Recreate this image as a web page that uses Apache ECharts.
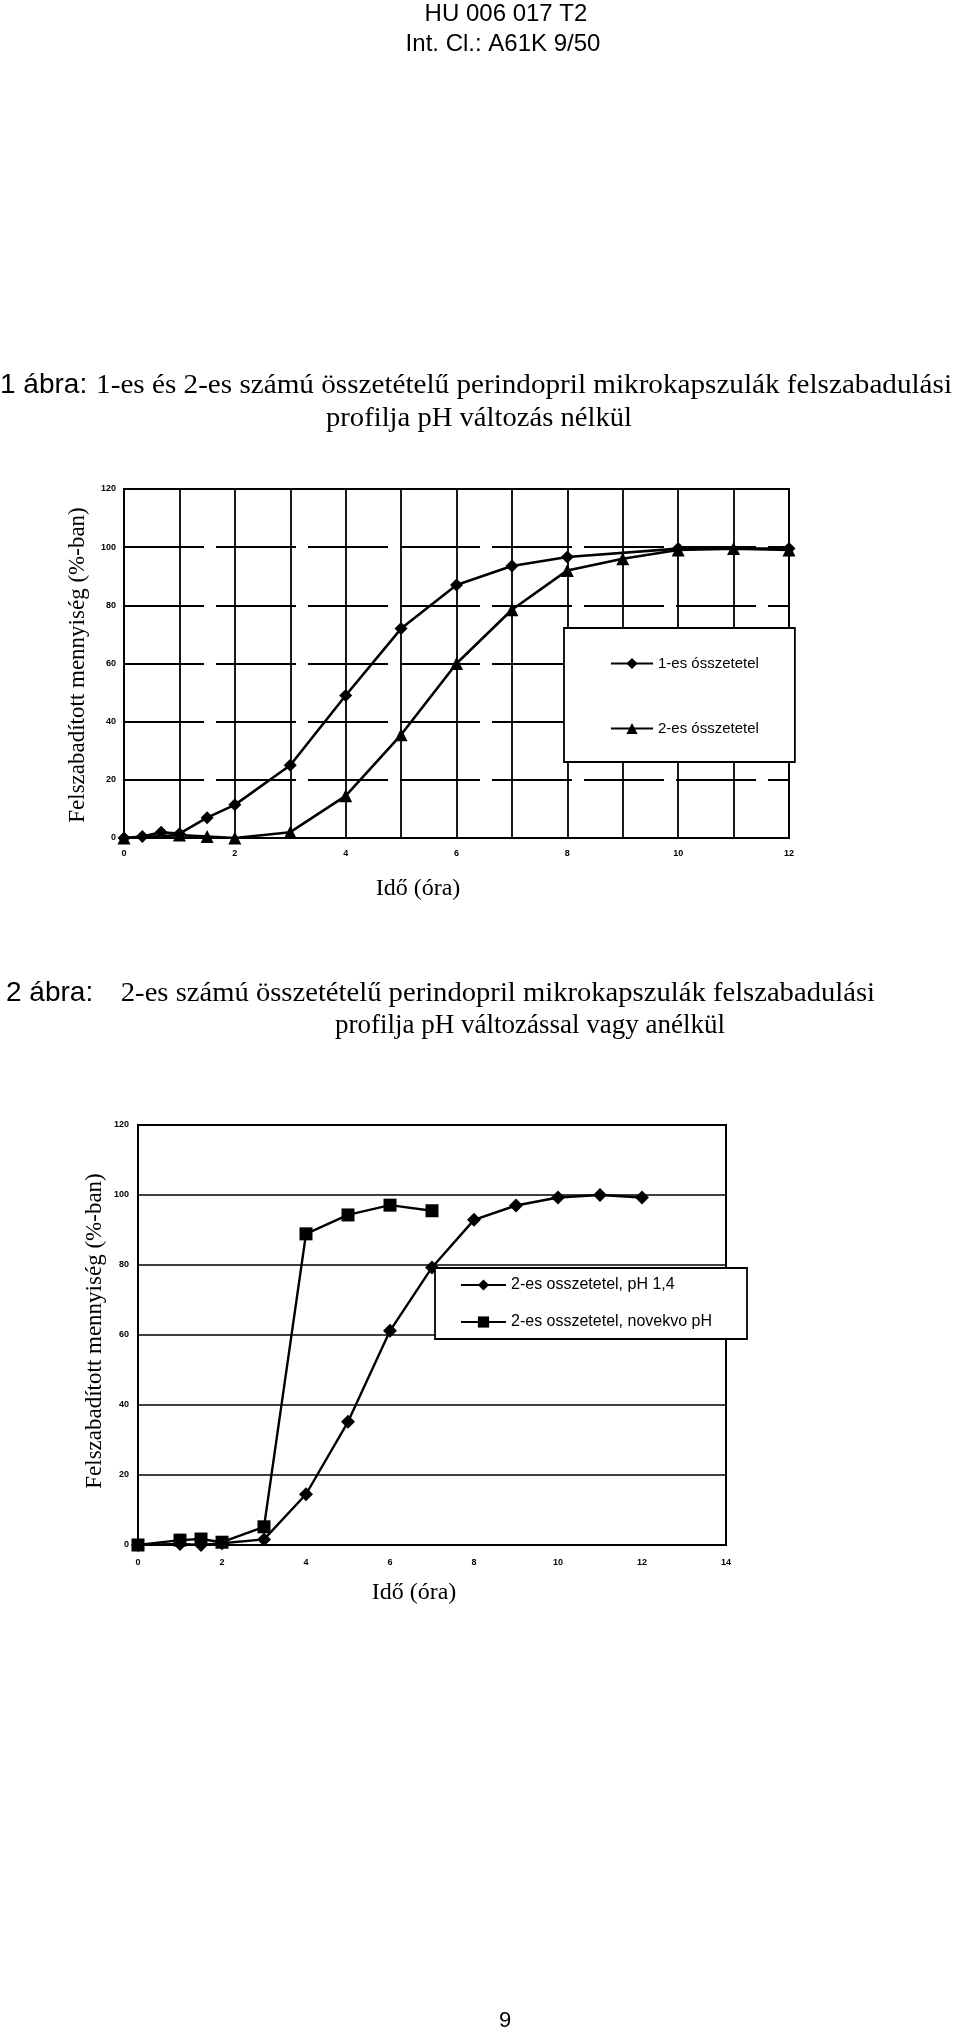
<!DOCTYPE html>
<html>
<head>
<meta charset="utf-8">
<script src="https://cdn.jsdelivr.net/npm/echarts@6/dist/echarts.min.js"></script>
<style>
html,body{margin:0;padding:0;background:#fff;}
#c{width:960px;height:2032px;}
</style>
</head>
<body>
<div id="c"></div>
<script>
// ---------- Figure 1 data ----------
const fig1Name1 = '1-es ósszetetel';
const fig1Name2 = '2-es ósszetetel';
const fig1Hours1 = [0, 0.33, 0.67, 1, 1.5, 2, 3, 4, 5, 6, 7, 8, 10, 12];
const fig1Values1 = [0, 0.5, 2, 1.5, 7, 11.4, 25, 49, 72, 87, 93.5, 96.6, 99.5, 99.5];
const fig1Hours2 = [0, 1, 1.5, 2, 3, 4, 5, 6, 7, 8, 9, 10, 11, 12];
const fig1Values2 = [0, 1, 0.5, 0, 2, 14.5, 35.5, 60, 78.5, 92, 96, 99, 99.5, 99];

// ---------- Figure 2 data ----------
const fig2Name1 = '2-es osszetetel, pH 1,4';
const fig2Name2 = '2-es osszetetel, novekvo pH';
const fig2Hours1 = [0, 1, 1.5, 2, 3, 4, 5, 6, 7, 8, 9, 10, 11, 12];
const fig2Values1 = [0, 0.3, 0, 0.5, 1.6, 14.5, 35.2, 61.2, 79.3, 92.9, 97, 99.3, 100, 99.3];
const fig2Hours2 = [0, 1, 1.5, 2, 3, 4, 5, 6, 7];
const fig2Values2 = [0, 1.4, 1.7, 0.8, 5.2, 88.9, 94.3, 97.1, 95.5];

// ---------- Texts ----------
const headerLine1 = 'HU 006 017 T2';
const headerLine2 = 'Int. Cl.: A61K 9/50';
const fig1Label = '1 ábra:';
const fig1TitleA = '1-es és 2-es számú összetételű perindopril mikrokapszulák felszabadulási';
const fig1TitleB = 'profilja pH változás nélkül';
const fig2Label = '2 ábra:';
const fig2TitleA = '2-es számú összetételű perindopril mikrokapszulák felszabadulási';
const fig2TitleB = 'profilja pH változással vagy anélkül';
const yTitle = 'Felszabadított mennyiség (%-ban)';
const xTitle = 'Idő (óra)';
const pageNumber = '9';

const zip = (xs, ys) => xs.map((x, i) => [x, ys[i]]);

const chart = echarts.init(document.getElementById('c'), null, {renderer: 'canvas'});

const SERIF = '"Liberation Serif", "Times New Roman", serif';
const SANS = '"Liberation Sans", Arial, sans-serif';

const axisLabelStyle = {color: '#000', fontSize: 9, fontWeight: 'bold', fontFamily: SANS};

function txt(text, x, y, font, align, rotation, scaleX) {
  return {
    type: 'text', x: x, y: y, rotation: rotation || 0, scaleX: scaleX || 1,
    style: {text: text, font: font, fill: '#000', textAlign: align || 'left', textVerticalAlign: 'middle'}
  };
}

const option = {
  backgroundColor: '#fff',
  animation: false,
  grid: [
    {left: 124, top: 489, width: 665, height: 349, show: true, borderColor: '#000', borderWidth: 2, backgroundColor: 'transparent'},
    {left: 138, top: 1125, width: 588, height: 420, show: true, borderColor: '#000', borderWidth: 2, backgroundColor: 'transparent'}
  ],
  xAxis: [
    {
      gridIndex: 0, type: 'value', min: 0, max: 12, interval: 1,
      axisLine: {show: true, lineStyle: {color: '#000', width: 2}},
      axisTick: {show: false},
      axisLabel: Object.assign({margin: 11, formatter: v => (v % 2 === 0 ? String(v) : '')}, axisLabelStyle),
      splitLine: {show: true, lineStyle: {color: '#000', width: 1.8}}
    },
    {
      gridIndex: 1, type: 'value', min: 0, max: 14, interval: 2,
      axisLine: {show: true, lineStyle: {color: '#000', width: 2}},
      axisTick: {show: false},
      axisLabel: Object.assign({margin: 13}, axisLabelStyle),
      splitLine: {show: false}
    }
  ],
  yAxis: [
    {
      gridIndex: 0, type: 'value', min: 0, max: 120, interval: 20,
      axisLine: {show: true, lineStyle: {color: '#000', width: 2}},
      axisTick: {show: false},
      axisLabel: Object.assign({margin: 8}, axisLabelStyle),
      splitLine: {show: true, lineStyle: {color: '#000', width: 1.8, type: [80, 12]}}
    },
    {
      gridIndex: 1, type: 'value', min: 0, max: 120, interval: 20,
      axisLine: {show: true, lineStyle: {color: '#000', width: 2}},
      axisTick: {show: false},
      axisLabel: Object.assign({margin: 9}, axisLabelStyle),
      splitLine: {show: true, lineStyle: {color: '#000', width: 1.7}}
    }
  ],
  legend: [
    {
      data: [fig1Name1, fig1Name2],
      orient: 'vertical', left: 564, top: 628,
      padding: [28, 36, 26, 46], itemGap: 50, itemWidth: 42, itemHeight: 14,
      backgroundColor: '#fff', borderColor: '#000', borderWidth: 1.8, borderRadius: 0,
      textStyle: {color: '#000', fontSize: 15, fontFamily: SANS},
      selectedMode: false
    },
    {
      data: [fig2Name1, fig2Name2],
      orient: 'vertical', left: 435, top: 1268,
      padding: [9, 35, 9, 25], itemGap: 21, itemWidth: 45, itemHeight: 14,
      backgroundColor: '#fff', borderColor: '#000', borderWidth: 1.8, borderRadius: 0,
      textStyle: {color: '#000', fontSize: 16, fontFamily: SANS},
      selectedMode: false
    }
  ],
  series: [
    {
      name: fig1Name1, type: 'line', xAxisIndex: 0, yAxisIndex: 0,
      data: zip(fig1Hours1, fig1Values1),
      symbol: 'diamond', symbolSize: 13,
      lineStyle: {color: '#000', width: 2.6}, itemStyle: {color: '#000'}
    },
    {
      name: fig1Name2, type: 'line', xAxisIndex: 0, yAxisIndex: 0,
      data: zip(fig1Hours2, fig1Values2),
      symbol: 'triangle', symbolSize: 13,
      lineStyle: {color: '#000', width: 2.6}, itemStyle: {color: '#000'}
    },
    {
      name: fig2Name1, type: 'line', xAxisIndex: 1, yAxisIndex: 1,
      data: zip(fig2Hours1, fig2Values1),
      symbol: 'diamond', symbolSize: 14,
      lineStyle: {color: '#000', width: 2.4}, itemStyle: {color: '#000'}
    },
    {
      name: fig2Name2, type: 'line', xAxisIndex: 1, yAxisIndex: 1,
      data: zip(fig2Hours2, fig2Values2),
      symbol: 'rect', symbolSize: 13,
      lineStyle: {color: '#000', width: 2.4}, itemStyle: {color: '#000'}
    }
  ],
  graphic: [
    txt(headerLine1, 506, 14, '24px ' + SANS, 'center'),
    txt(headerLine2, 503, 44, '24px ' + SANS, 'center'),
    txt(fig1Label, 0, 385, '28px ' + SANS, 'left'),
    {
      type: 'text', x: 952, y: 386, scaleX: 1.08,
      style: {text: fig1TitleA, font: '27px ' + SERIF, fill: '#000', textAlign: 'right', textVerticalAlign: 'middle'}
    },
    {
      type: 'text', x: 479, y: 419, scaleX: 1.06,
      style: {text: fig1TitleB, font: '27px ' + SERIF, fill: '#000', textAlign: 'center', textVerticalAlign: 'middle'}
    },
    txt(yTitle, 78, 665, '23px ' + SERIF, 'center', Math.PI / 2),
    txt(xTitle, 418, 889, '24px ' + SERIF, 'center'),
    txt(fig2Label, 6, 993, '28px ' + SANS, 'left'),
    {
      type: 'text', x: 875, y: 994, scaleX: 1.06,
      style: {text: fig2TitleA, font: '27px ' + SERIF, fill: '#000', textAlign: 'right', textVerticalAlign: 'middle'}
    },
    {
      type: 'text', x: 530, y: 1026, scaleX: 1.0,
      style: {text: fig2TitleB, font: '27px ' + SERIF, fill: '#000', textAlign: 'center', textVerticalAlign: 'middle'}
    },
    txt(yTitle, 95, 1331, '23px ' + SERIF, 'center', Math.PI / 2),
    txt(xTitle, 414, 1593, '24px ' + SERIF, 'center'),
    txt(pageNumber, 505, 2021, '22px ' + SANS, 'center')
  ]
};

chart.setOption(option);
</script>
</body>
</html>
